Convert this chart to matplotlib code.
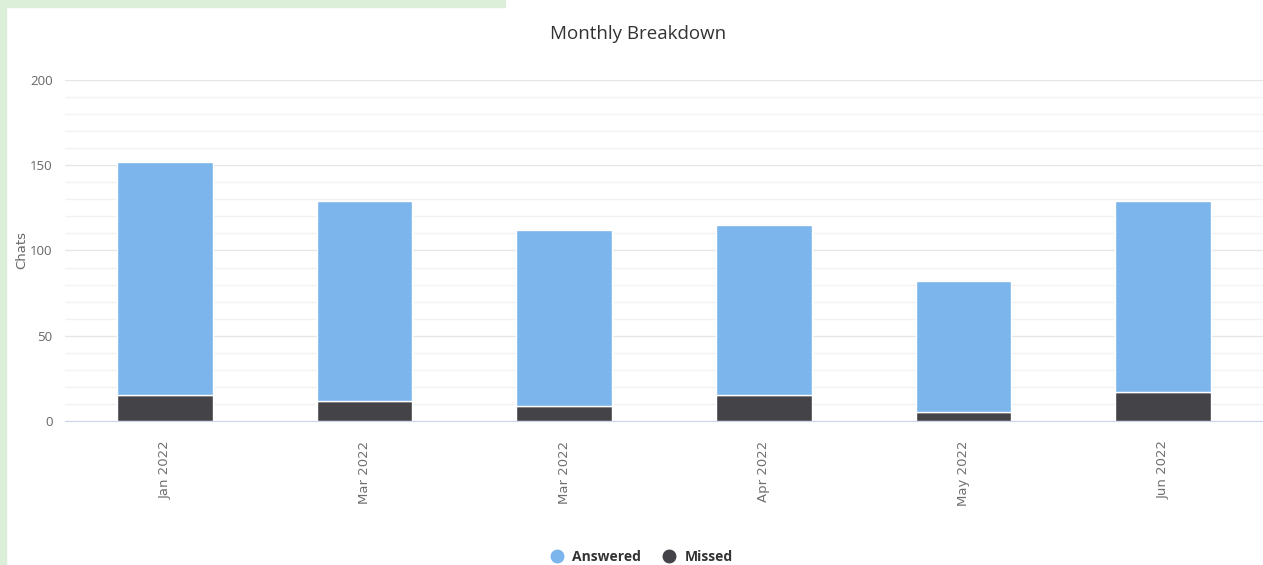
import matplotlib.pyplot as plt
from matplotlib.lines import Line2D
import numpy as np

# data
months = ['Jan 2022', 'Mar 2022', 'Mar 2022', 'Apr 2022', 'May 2022', 'Jun 2022']
missed = [15, 12, 9, 15, 5, 17]
answered = [137, 117, 103, 100, 77, 112]

narrow = ['Liberation Sans Narrow', 'Open Sans', 'DejaVu Sans']

fig = plt.figure(figsize=(12.63, 5.65), dpi=100)

# light green frame in the top-left corner
fig.patches.append(plt.Rectangle((0, 0), 0.005, 1, transform=fig.transFigure,
                                 color='#dcefd8', zorder=0))
fig.patches.append(plt.Rectangle((0, 0.987), 0.4, 0.013, transform=fig.transFigure,
                                 color='#dcefd8', zorder=0))

ax = fig.add_axes([0.0515, 0.2549, 0.9485, 0.6035])
x = np.arange(len(months))
ax.bar(x, missed, width=0.48, color='#434348', edgecolor='white', linewidth=1, zorder=3)
ax.bar(x, answered, width=0.48, bottom=missed, color='#7cb5ec', edgecolor='white',
       linewidth=1, zorder=3)

ax.set_xlim(-0.5, len(months) - 0.5)
ax.set_ylim(0, 200)
ax.set_yticks([0, 50, 100, 150, 200])
ax.set_yticks(np.arange(0, 201, 10), minor=True)
ax.grid(axis='y', which='major', color='#e6e6e6', linewidth=1, zorder=0)
ax.grid(axis='y', which='minor', color='#f2f2f2', linewidth=1, zorder=0)
ax.tick_params(axis='y', which='both', length=0, pad=9, labelcolor='#666666')
for lbl in ax.get_yticklabels():
    lbl.set_family(narrow)
    lbl.set_fontsize(9.5)

ax.set_xticks(x)
ax.set_xticklabels(months, rotation=90, fontsize=9.5, color='#707070', family='DejaVu Sans')
ax.tick_params(axis='x', length=0, pad=14)

for s in ['top', 'right', 'left']:
    ax.spines[s].set_visible(False)
ax.spines['bottom'].set_color('#ccd6eb')

ax.set_ylabel('Chats', fontsize=9.5, color='#666666', family='DejaVu Sans')
ax.yaxis.set_label_coords(-0.031, 0.5)

fig.text(0.505, 0.94, 'Monthly Breakdown', ha='center', va='center',
         fontsize=13.5, color='#333333', family=narrow)

handles = [Line2D([], [], marker='o', linestyle='', markersize=9, color='#7cb5ec'),
           Line2D([], [], marker='o', linestyle='', markersize=9, color='#434348')]
leg = fig.legend(handles, ['Answered', 'Missed'], loc='center', bbox_to_anchor=(0.505, 0.015),
                 ncol=2, frameon=False, handletextpad=0.1, columnspacing=1.0,
                 prop={'family': narrow, 'size': 10, 'weight': 'bold'})
for t in leg.get_texts():
    t.set_color('#333333')

fig.savefig('out.png', dpi=100)
